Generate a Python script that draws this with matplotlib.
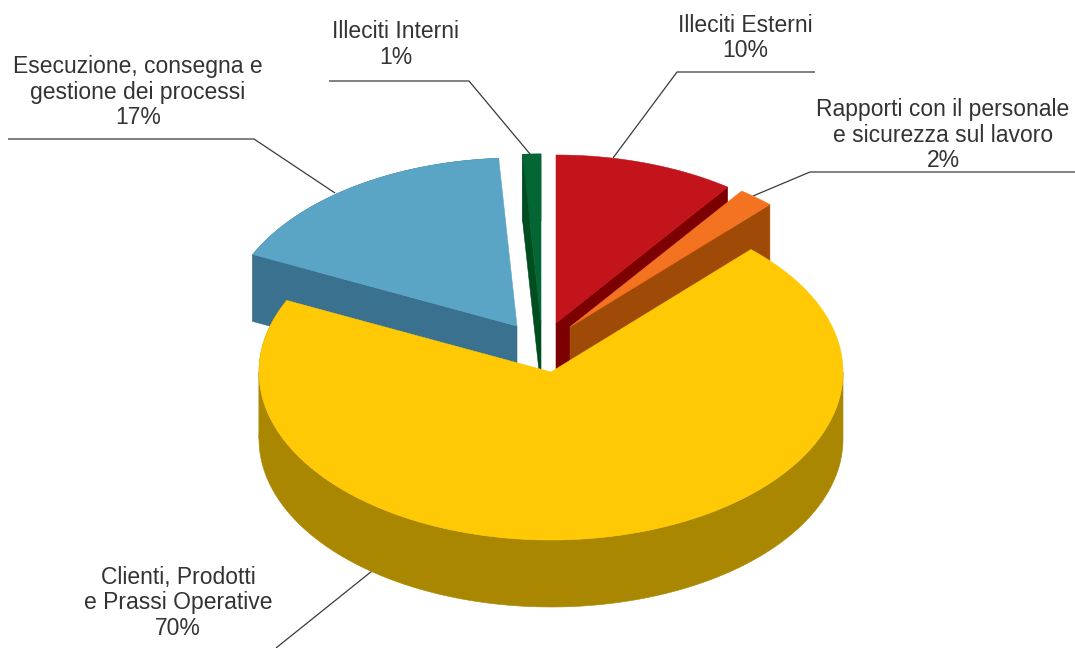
import numpy as np
import matplotlib
matplotlib.use('Agg')
import matplotlib.pyplot as plt
from matplotlib.patches import Polygon

labels = ['Illeciti Esterni', 'Rapporti con il personale\ne sicurezza sul lavoro',
          'Clienti, Prodotti\ne Prassi Operative',
          'Esecuzione, consegna e\ngestione dei processi', 'Illeciti Interni']
values = [10, 2, 70, 17, 1]

top_colors = ['#C3131B', '#F47321', '#FFC906', '#5AA5C6', '#036634']
side_colors = ['#7D0000', '#A04A08', '#A98700', '#3A718E', '#004D20']

# apex of each exploded slice, in pixels
apex = [(556, 323), (570, 327), (551, 372), (517, 326), (541, 322)]
RX, RY = 292, 168
DEPTH = 67

# back slices first, the big one sits in front of all of them
draw_order = [3, 4, 0, 1, 2]

# label centre, then the leader polyline
label_pos = [(745, 38), (943, 135), (178, 603), (138, 92), (396, 44.5)]
leaders = [[(815, 72), (677, 72), (613, 158)],
           [(1075, 172), (810, 172), (753, 196)],
           [(276, 648), (372, 571)],
           [(8, 139), (254, 139), (335, 193)],
           [(329, 81), (469, 81), (530, 154)]]


def rim(cx, cy, a1, a2):
    t = np.radians(np.linspace(a1, a2, 200))
    return np.column_stack([cx + RX * np.cos(t), cy - RY * np.sin(t)])


def add_face(pts, color, z):
    ax.add_patch(Polygon(pts, closed=True, facecolor=color, edgecolor=color,
                         linewidth=0.4, zorder=z))


fig = plt.figure(figsize=(10.75, 6.48), dpi=100)
ax = fig.add_axes([0, 0, 1, 1])
ax.set_xlim(0, 1075)
ax.set_ylim(648, 0)
ax.axis('off')

# slices run clockwise from twelve o'clock
ends = 90 - 360 * np.cumsum(values) / np.sum(values)
starts = np.concatenate([[90], ends[:-1]])

z = 1
for i in draw_order:
    cx, cy = apex[i]
    a1, a2 = starts[i], ends[i]
    down = np.array([0, DEPTH])
    centre = np.array([cx, cy], dtype=float)

    # cut faces, only the ones turned towards the viewer
    if np.cos(np.radians(a1)) < 0:
        p = rim(cx, cy, a1, a1)[0]
        add_face([centre, p, p + down, centre + down], side_colors[i], z)
    if -np.cos(np.radians(a2)) < 0:
        p = rim(cx, cy, a2, a2)[0]
        add_face([centre, p, p + down, centre + down], side_colors[i], z)

    # outer wall along the front half of the rim
    lo, hi = max(a2, -180), min(a1, 0)
    if hi > lo:
        edge = rim(cx, cy, hi, lo)
        add_face(np.vstack([edge, (edge + down)[::-1]]), side_colors[i], z)
    lo, hi = a2, min(a1, -180)
    if hi > lo:
        edge = rim(cx, cy, hi, lo)
        add_face(np.vstack([edge, (edge + down)[::-1]]), side_colors[i], z)

    add_face(np.vstack([centre, rim(cx, cy, a1, a2)]), top_colors[i], z + 0.5)
    z += 1

for i in range(len(values)):
    x, y = zip(*leaders[i])
    ax.plot(x, y, color='#3a3a3a', linewidth=0.9, zorder=0.5, solid_capstyle='butt')
    ax.text(label_pos[i][0], label_pos[i][1], '%s\n%d%%' % (labels[i], values[i]),
            ha='center', va='center', fontsize=16.5, family='Liberation Sans',
            color='#333333', linespacing=1.15, zorder=10)

fig.savefig('out.png', dpi=100)
